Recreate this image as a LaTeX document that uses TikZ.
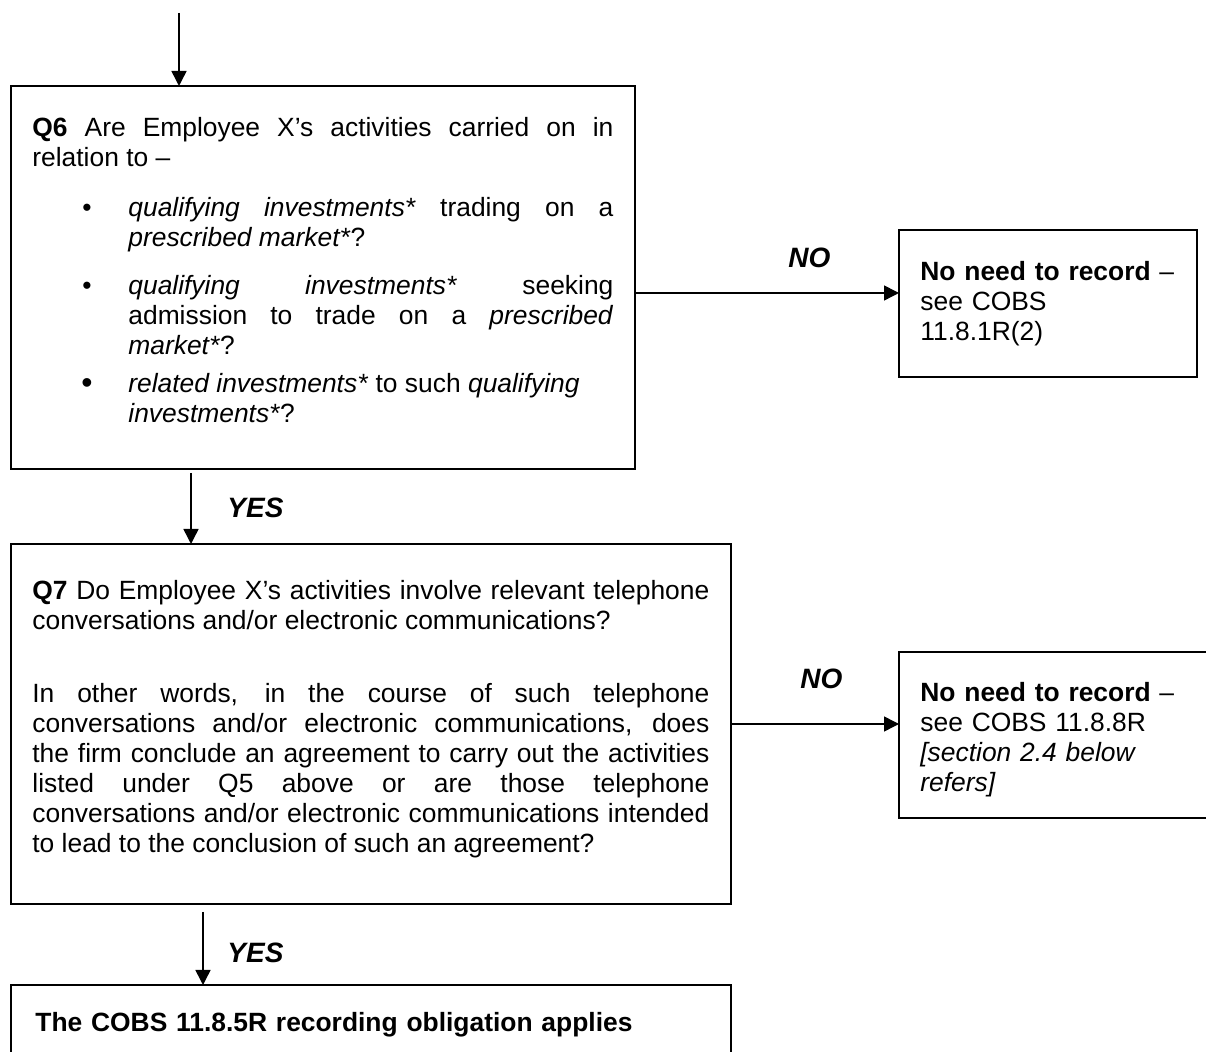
\documentclass[tikz,border=0pt]{standalone}
\usepackage{fontspec}
\setmainfont{Liberation Sans}
\usetikzlibrary{arrows.meta}
\begin{document}
\begin{tikzpicture}[x=0.5pt,y=-0.5pt,
  box/.style={draw, line width=0.9pt, inner sep=0pt, outer sep=0pt, anchor=north west},
  txt/.style={inner sep=0pt, anchor=base west, align=justify, font=\fontsize{13.2pt}{15pt}\selectfont},
  plain/.style={inner sep=0pt, anchor=base west, align=left, font=\fontsize{13.2pt}{15pt}\selectfont},
  bul/.style={inner sep=0pt, anchor=base, font=\fontsize{13.2pt}{15pt}\selectfont},
  lbl/.style={inner sep=0pt, anchor=base west, font=\fontsize{14pt}{15pt}\selectfont\bfseries\itshape},
  arr/.style={-{Triangle[length=7.5pt,width=7.5pt]}, line width=0.75pt}]
\clip (0,0) rectangle (1206,1052);
\fill[white] (0,0) rectangle (1206,1052);

% boxes
\node[box, minimum width=312pt, minimum height=191.5pt] (q6) at (11,86) {};
\node[box, minimum width=149pt, minimum height=73.5pt] (no1) at (899,230) {};
\node[box, minimum width=360pt, minimum height=180pt] (q7) at (11,544) {};
\node[box, minimum width=165.5pt, minimum height=83pt] (no2) at (899,652) {};
\node[box, minimum width=360pt, minimum height=47.5pt] (res) at (11,985) {};

% Q6 text
\node[txt, text width=290.5pt] (q6t) at (32,137)
  {\textbf{Q6} Are Employee X’s activities carried on in\linebreak relation to –};
\node[bul] (b1) at (87,217) {\textbullet};
\node[txt, text width=242.5pt] (b1t) at (128,217)
  {\textit{qualifying investments*} trading on a\linebreak \textit{prescribed market*}?};
\node[bul] (b2) at (87,295) {\textbullet};
\node[txt, text width=242.5pt] (b2t) at (128,295)
  {\textit{qualifying investments*} seeking\linebreak admission to trade on a \textit{prescribed}\linebreak \textit{market*}?};
\node[bul, font=\fontsize{16pt}{15pt}\selectfont] (b3) at (87,394) {\textbullet};
\node[txt, text width=242.5pt] (b3t) at (128,393)
  {\textit{related investments*} to such \textit{qualifying}\\ \textit{investments*}?};

% NO box 1 text
\node[plain, text width=140pt] (no1t) at (920,281)
  {\textbf{No need to record} –\\ see COBS\\ 11.8.1R(2)};

% Q7 text
\node[txt, text width=338.5pt] (q7a) at (32,600)
  {\textbf{Q7} Do Employee X’s activities involve relevant telephone\linebreak conversations and/or electronic communications?};
\node[txt, text width=338.5pt] (q7b) at (32,703)
  {In other words, in the course of such telephone\linebreak conversations and/or electronic communications, does\linebreak the firm conclude an agreement to carry out the activities\linebreak listed under Q5 above or are those telephone\linebreak conversations and/or electronic communications intended\linebreak to lead to the conclusion of such an agreement?};

% NO box 2 text
\node[plain, text width=150pt] (no2t) at (920,702)
  {\textbf{No need to record} –\\ see COBS 11.8.8R\\ \textit{[section 2.4 below}\\ \textit{refers]}};

% result text
\node[plain, text width=340pt, font=\fontsize{13.2pt}{15pt}\selectfont\bfseries] (rest) at (35,1032)
  {The COBS 11.8.5R recording obligation applies};

% labels
\node[lbl] (lno1) at (788,268) {NO};
\node[lbl] (lno2) at (800,689) {NO};
\node[lbl] (lyes1) at (227,518) {YES};
\node[lbl] (lyes2) at (227,963) {YES};

% connectors
\coordinate (top) at (179,13);
\draw[arr] (top) -- (top |- q6.north);
\draw[arr] ([yshift=-7.75pt]q6.east) coordinate (n1s) -- (n1s -| no1.west);
\draw[arr] ([xshift=90pt,yshift=-2pt]q6.south west) coordinate (y1s) -- (y1s |- q7.north);
\draw[arr] (q7.east) -- (q7.east -| no2.west);
\draw[arr] ([xshift=96pt,yshift=-4pt]q7.south west) coordinate (y2s) -- (y2s |- res.north);
\end{tikzpicture}
\end{document}
